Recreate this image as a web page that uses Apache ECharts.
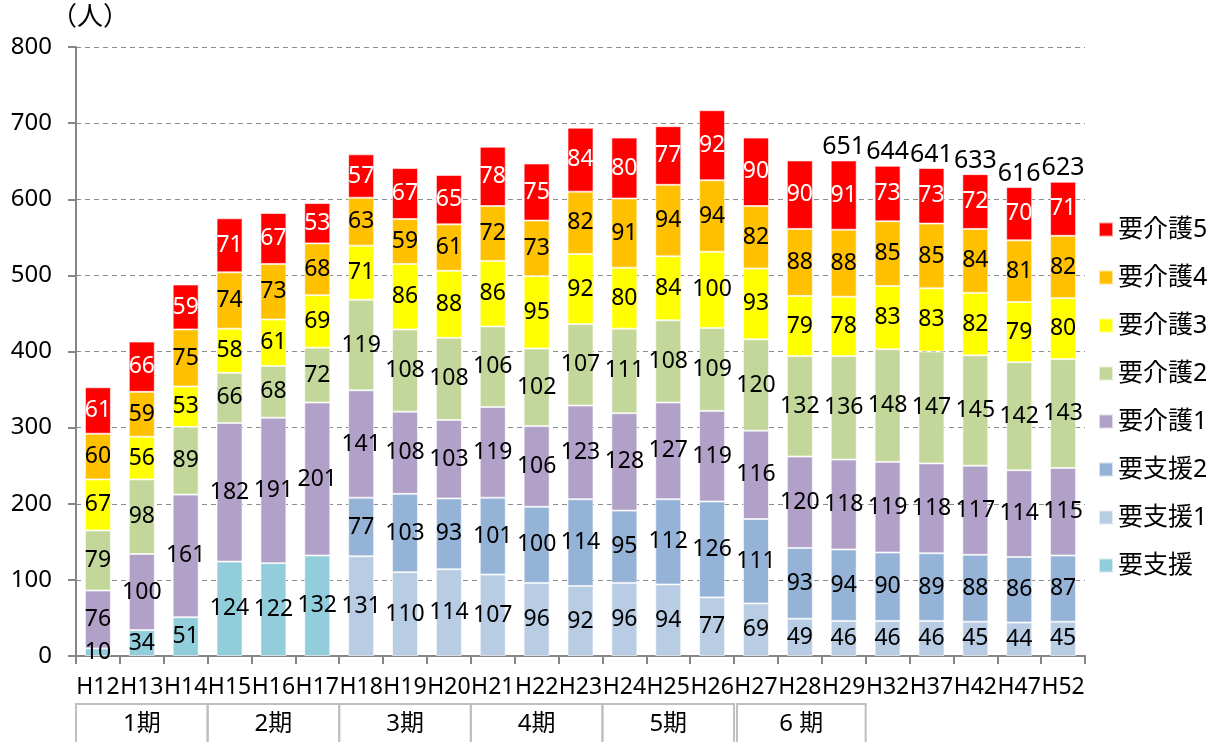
<!DOCTYPE html>
<html>
<head>
<meta charset="utf-8">
<script src="https://cdn.jsdelivr.net/npm/echarts@6/dist/echarts.min.js"></script>
<style>
  html, body { margin: 0; padding: 0; background: #fff; }
  #chart { width: 1217px; height: 742px; }
</style>
</head>
<body>
<div id="chart"></div>
<script>
// categories
var years = ['H12','H13','H14','H15','H16','H17','H18','H19','H20','H21','H22','H23',
             'H24','H25','H26','H27','H28','H29','H32','H37','H42','H47','H52'];

// series values (bottom to top)
var shien  = [10, 34, 51, 124, 122, 132, null, null, null, null, null, null, null, null, null, null, null, null, null, null, null, null, null];
var shien1 = [null, null, null, null, null, null, 131, 110, 114, 107, 96, 92, 96, 94, 77, 69, 49, 46, 46, 46, 45, 44, 45];
var shien2 = [null, null, null, null, null, null, 77, 103, 93, 101, 100, 114, 95, 112, 126, 111, 93, 94, 90, 89, 88, 86, 87];
var kaigo1 = [76, 100, 161, 182, 191, 201, 141, 108, 103, 119, 106, 123, 128, 127, 119, 116, 120, 118, 119, 118, 117, 114, 115];
var kaigo2 = [79, 98, 89, 66, 68, 72, 119, 108, 108, 106, 102, 107, 111, 108, 109, 120, 132, 136, 148, 147, 145, 142, 143];
var kaigo3 = [67, 56, 53, 58, 61, 69, 71, 86, 88, 86, 95, 92, 80, 84, 100, 93, 79, 78, 83, 83, 82, 79, 80];
var kaigo4 = [60, 59, 75, 74, 73, 68, 63, 59, 61, 72, 73, 82, 91, 94, 94, 82, 88, 88, 85, 85, 84, 81, 82];
var kaigo5 = [61, 66, 59, 71, 67, 53, 57, 67, 65, 78, 75, 84, 80, 77, 92, 90, 90, 91, 73, 73, 72, 70, 71];

// totals are only labelled from H29 onward
var totalFrom = 17;

// period boxes under the axis: label, first index, last index
var periods = ['1期', '2期', '3期', '4期', '5期', '6 期'];
var periodStart = [0, 3, 6, 9, 12, 15];
var periodEnd   = [2, 5, 8, 11, 14, 17];

var FONT = '"Noto Sans", "Noto Sans CJK JP", sans-serif';

var chart = echarts.init(document.getElementById('chart'));

function seg(name, data, color, labelColor) {
  return {
    name: name,
    type: 'bar',
    stack: 'all',
    barWidth: 26,
    data: data,
    itemStyle: { color: color, borderColor: 'rgba(255,255,255,0.6)', borderWidth: 1 },
    label: {
      show: true,
      position: 'inside',
      color: labelColor || '#000',
      fontSize: 23,
      fontFamily: FONT,
      formatter: function (p) { return p.value ? p.value : ''; }
    }
  };
}

var totals = years.map(function (y, i) {
  var s = [shien, shien1, shien2, kaigo1, kaigo2, kaigo3, kaigo4, kaigo5]
    .reduce(function (a, arr) { return a + (arr[i] || 0); }, 0);
  return i >= totalFrom ? s : null;
});

var option = {
  animation: false,
  textStyle: { fontFamily: FONT },
  grid: { left: 76, right: 132, top: 47, bottom: 86 },
  title: {
    text: '（人）',
    left: 46, top: 0,
    textStyle: { fontSize: 26, fontWeight: 'normal', color: '#000', fontFamily: FONT }
  },
  legend: {
    orient: 'vertical',
    left: 1093, top: 212,
    itemWidth: 14, itemHeight: 14,
    itemGap: 23,
    itemTextGap: 7,
    icon: 'rect',
    textStyle: { fontSize: 25, color: '#000', fontFamily: FONT },
    data: ['要介護5', '要介護4', '要介護3', '要介護2', '要介護1', '要支援2', '要支援1', '要支援']
  },
  xAxis: {
    type: 'category',
    data: years,
    axisLine: { lineStyle: { color: '#868686', width: 2 } },
    axisTick: { show: true, length: 8, lineStyle: { color: '#868686', width: 2 } },
    axisLabel: { interval: 0, fontSize: 23, color: '#000', margin: 20, fontFamily: FONT }
  },
  yAxis: {
    type: 'value',
    min: 0, max: 800, interval: 100,
    axisLine: { show: true, lineStyle: { color: '#868686', width: 2 } },
    axisTick: { show: true, length: 8, inside: false, lineStyle: { color: '#868686', width: 2 } },
    axisLabel: { fontSize: 24, color: '#000', margin: 24, fontFamily: FONT },
    splitLine: { lineStyle: { color: '#8c8c8c', type: [5, 4], width: 1 } }
  },
  series: [
    seg('要支援', shien, '#92CDDC'),
    seg('要支援1', shien1, '#B8CCE4'),
    seg('要支援2', shien2, '#95B3D7'),
    seg('要介護1', kaigo1, '#B1A0C7'),
    seg('要介護2', kaigo2, '#C4D79B'),
    seg('要介護3', kaigo3, '#FFFF00'),
    seg('要介護4', kaigo4, '#FFC000'),
    seg('要介護5', kaigo5, '#FF0000', '#fff'),
    {
      name: '合計',
      type: 'bar',
      stack: 'all',
      barWidth: 26,
      data: totals.map(function () { return 0; }),
      itemStyle: { color: 'transparent' },
      label: {
        show: true,
        position: 'top',
        distance: 1,
        color: '#000',
        fontSize: 25,
        fontFamily: FONT,
        formatter: function (p) { return totals[p.dataIndex] == null ? '' : totals[p.dataIndex]; }
      }
    }
  ]
};

chart.setOption(option);

// period table under the x axis labels
var half = chart.convertToPixel({ xAxisIndex: 0 }, 1) - chart.convertToPixel({ xAxisIndex: 0 }, 0);
var graphics = [];
periods.forEach(function (name, i) {
  var x0 = chart.convertToPixel({ xAxisIndex: 0 }, periodStart[i]) - half / 2;
  var x1 = chart.convertToPixel({ xAxisIndex: 0 }, periodEnd[i]) + half / 2;
  if (i === periods.length - 1) x0 += 3;
  graphics.push({
    type: 'rect',
    shape: { x: x0, y: 704, width: x1 - x0, height: 44 },
    style: { fill: 'none', stroke: '#bfbfbf', lineWidth: 2 }
  });
  graphics.push({
    type: 'text',
    x: (x0 + x1) / 2, y: 724,
    style: { text: name, fontSize: 24, fill: '#000', fontFamily: FONT, align: 'center', verticalAlign: 'middle' }
  });
});
chart.setOption({ graphic: graphics });
</script>
</body>
</html>
